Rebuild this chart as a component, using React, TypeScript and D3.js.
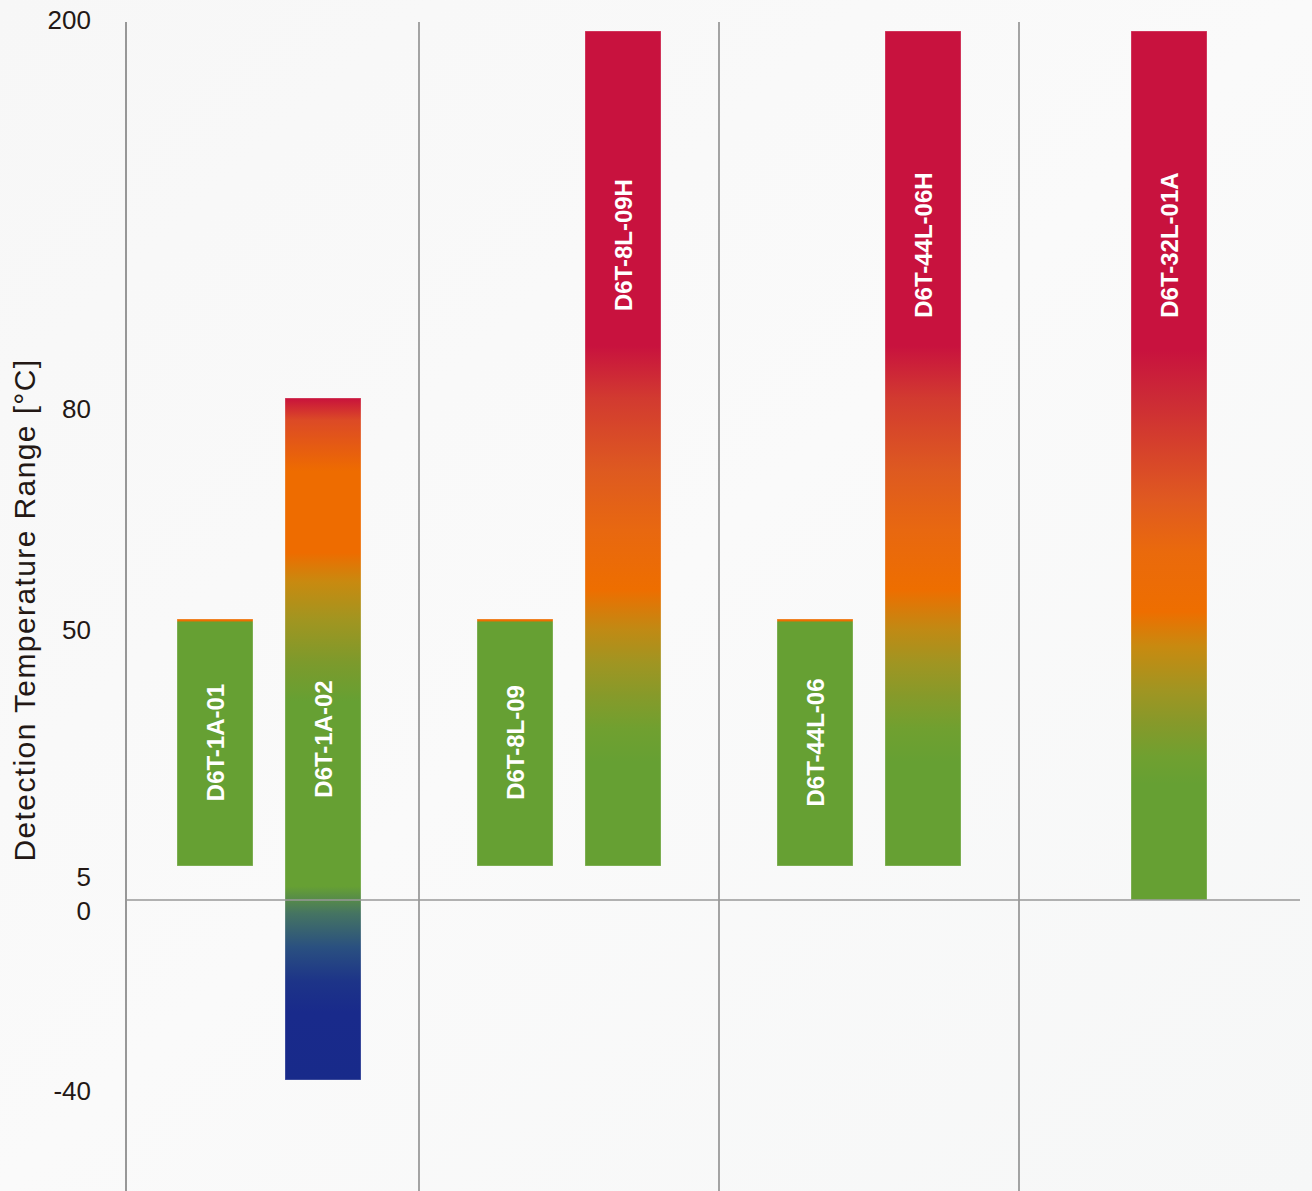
import React, { useEffect } from 'react';
import * as d3 from 'd3';

// sensor families (one column each) and the models inside them
const families = ['D6T-1A', 'D6T-8L', 'D6T-44L', 'D6T-32L'];
const models = ['D6T-1A-01', 'D6T-1A-02', 'D6T-8L-09', 'D6T-8L-09H', 'D6T-44L-06', 'D6T-44L-06H', 'D6T-32L-01A'];
const modelFamily = ['D6T-1A', 'D6T-1A', 'D6T-8L', 'D6T-8L', 'D6T-44L', 'D6T-44L', 'D6T-32L'];
const minTemp = [5, -40, 5, 5, 5, 5, 0];
const maxTemp = [50, 80, 50, 200, 50, 200, 200];
const colorRamp = ['low', 'wide', 'low', 'high', 'low', 'high', 'full'];

const yTicks = [200, 80, 50, 5, 0, -40];

// gradient stops, expressed in degrees so they follow the axis
const ramps: Record<string, [number, string][]> = {
  low: [[50, '#ee6e00'], [49.6, '#ee6e00'], [49.5, '#66a033'], [5, '#66a033']],
  wide: [
    [80, '#c8123c'], [77, '#dc4a26'], [70, '#ee6c00'], [59, '#ee6c00'], [55, '#c88a10'],
    [50, '#a29520'], [42, '#7c9a2c'], [35, '#66a033'], [2, '#66a033'], [-3, '#457462'],
    [-10.5, '#2a5080'], [-18, '#1d3488'], [-25, '#192a8b'], [-40, '#182a8a'],
  ],
  high: [
    [200, '#c8123e'], [97, '#c8123e'], [80, '#d23a30'], [70, '#de5a20'], [62, '#e86810'],
    [54, '#ee6e00'], [48, '#c08a14'], [42, '#a09522'], [36, '#869a2a'], [30, '#70a030'],
    [24, '#66a033'], [5, '#66a033'],
  ],
  full: [
    [200, '#c8123e'], [96, '#c8123e'], [80, '#cc2a36'], [66, '#e05a20'], [59, '#ea6a0c'],
    [51, '#ee6e00'], [45, '#c88a10'], [37, '#a09522'], [31, '#86992a'], [25, '#70a030'],
    [20, '#66a033'], [0, '#66a033'],
  ],
};

const W = 1312;
const H = 1191;
const FONT = '"Liberation Sans", Arial, Helvetica, sans-serif';

const App: React.FC = () => {
  useEffect(() => {
    document.body.style.margin = '0';
  }, []);

  // broken (piecewise) temperature axis
  const y = d3.scaleLinear().domain([-40, 0, 5, 50, 80, 200]).range([1080, 900, 866, 619, 398, 31]);
  const x = d3.scaleBand().domain(families).range([119, 1319]);
  const axisX = 126;
  const barW = 76;

  const bars = models.map((m, i) => {
    const fam = modelFamily[i];
    const members = models.filter((_, j) => modelFamily[j] === fam);
    const center = (x(fam) ?? 0) + x.bandwidth() / 2;
    const sub = d3
      .scaleBand()
      .domain(members)
      .range(members.length > 1 ? [center - 108, center + 108] : [center - 38, center + 38])
      .paddingInner(members.length > 1 ? 32 / 108 : 0)
      .paddingOuter(members.length > 1 ? 16 / 108 : 0);
    const x0 = sub(m) ?? 0;
    const yTop = y(maxTemp[i]);
    const yBot = y(minTemp[i]);
    const labelY = maxTemp[i] >= 200 ? y(130) : (yTop + yBot) / 2;
    return { m, i, x0, w: sub.bandwidth() || barW, yTop, yBot, labelY };
  });

  return (
    <svg
      width={W}
      height={H}
      style={{ position: 'absolute', left: 0, top: 0, display: 'block' }}
      fontFamily={FONT}
    >
      <defs>
        <linearGradient id="bg" x1="0" y1="0" x2="1" y2="1">
          <stop offset="0" stopColor="#f7f7f7" />
          <stop offset="0.5" stopColor="#fafafa" />
          <stop offset="1" stopColor="#f6f7f7" />
        </linearGradient>
        {bars.map((b) => (
          <linearGradient
            key={b.m}
            id={`g-${b.i}`}
            gradientUnits="userSpaceOnUse"
            x1="0"
            x2="0"
            y1={b.yTop}
            y2={b.yBot}
          >
            {ramps[colorRamp[b.i]].map(([t, c], k) => (
              <stop key={k} offset={(y(t) - b.yTop) / (b.yBot - b.yTop)} stopColor={c} />
            ))}
          </linearGradient>
        ))}
      </defs>

      <rect x={0} y={0} width={W} height={H} fill="url(#bg)" />

      {/* column dividers */}
      {families.slice(1).map((f) => (
        <line key={f} x1={x(f)} x2={x(f)} y1={22} y2={H} stroke="#5e5e5e" strokeWidth={1.1} />
      ))}
      <line x1={axisX} x2={axisX} y1={22} y2={H} stroke="#6e6e6e" strokeWidth={1.4} />

      {/* bars */}
      {bars.map((b) => (
        <g key={b.m}>
          <rect
            x={b.x0}
            y={b.yTop}
            width={b.w}
            height={b.yBot - b.yTop}
            fill={`url(#g-${b.i})`}
            stroke="rgba(255,255,255,0.3)"
            strokeWidth={1}
          />
          <text
            transform={`translate(${b.x0 + b.w / 2},${b.labelY}) rotate(-90)`}
            textAnchor="middle"
            dominantBaseline="central"
            fill="#ffffff"
            fontWeight="bold"
            fontSize={24}
          >
            {b.m}
          </text>
        </g>
      ))}

      {/* zero line */}
      <line x1={axisX} x2={1300} y1={y(0)} y2={y(0)} stroke="#999999" strokeWidth={1.6} />

      {/* tick labels */}
      {yTicks.map((t) => (
        <text
          key={t}
          x={91}
          y={t === 200 ? y(t) - 11 : y(t) + 11}
          textAnchor="end"
          dominantBaseline="central"
          fontSize={26}
          fill="#231815"
        >
          {t}
        </text>
      ))}

      {/* axis title */}
      <text
        transform={`translate(35,610) rotate(-90)`}
        textAnchor="middle"
        fontSize={30}
        letterSpacing={1.4}
        fill="#231815"
      >
        Detection Temperature Range [°C]
      </text>
    </svg>
  );
};

export default App;
